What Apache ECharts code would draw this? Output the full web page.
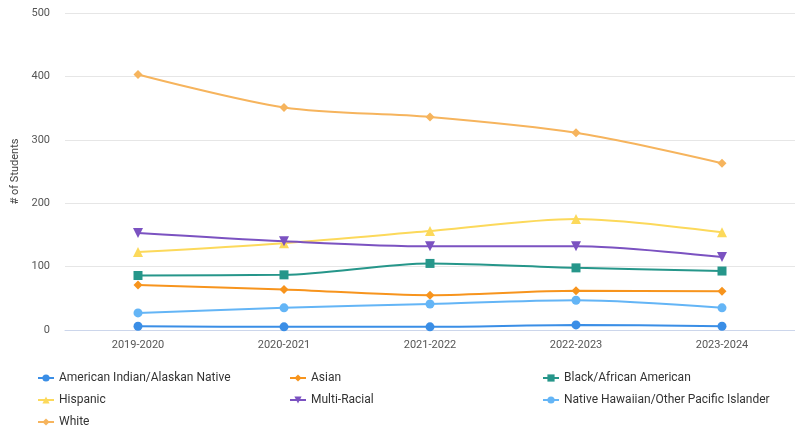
<!DOCTYPE html>
<html><head><meta charset="utf-8">
<script src="https://cdn.jsdelivr.net/npm/echarts@6/dist/echarts.min.js"></script>
<style>html,body{margin:0;padding:0;background:#fff}#c{width:795px;height:430px}</style>
</head><body><div id="c"></div>
<script>
var categories = ['2019-2020','2020-2021','2021-2022','2022-2023','2023-2024'];
var aian = [6,5,5,8,6];
var asian = [71,64,55,62,61];
var black = [86,87,105,98,93];
var hispanic = [123,137,156,175,154];
var multiRacial = [153,140,132,132,115];
var nhopi = [27,35,41,47,35];
var white = [403,351,336,311,263];
var yTicks = [0,100,200,300,400,500];

var defs = [
  {name:'American Indian/Alaskan Native', data:aian, color:'#3a8ee6', symbol:'circle', size:9},
  {name:'Asian', data:asian, color:'#f7941d', symbol:'diamond', size:9},
  {name:'Black/African American', data:black, color:'#26968a', symbol:'rect', size:9},
  {name:'Hispanic', data:hispanic, color:'#fcd95b', symbol:'triangle', size:10},
  {name:'Multi-Racial', data:multiRacial, color:'#7b52c1', symbol:'triangle', size:10, rotate:180},
  {name:'Native Hawaiian/Other Pacific Islander', data:nhopi, color:'#64b5f6', symbol:'circle', size:9},
  {name:'White', data:white, color:'#f6b45d', symbol:'diamond', size:9}
];
var series = defs.map(function(d){
  return {name:d.name, type:'line', data:d.data, smooth:0.3, symbol:d.symbol, symbolSize:d.size,
    symbolRotate:d.rotate||0, showSymbol:true,
    itemStyle:{color:d.color}, lineStyle:{color:d.color, width:2}};
});
var colLeft = [37, 289, 542];
var rowTop = [372, 394, 416];
var legends = defs.map(function(d, i){
  return {left:colLeft[i % 3], top:rowTop[Math.floor(i / 3)], data:[d.name], padding:0,
    itemWidth:16, itemHeight:9, itemGap:5,
    textStyle:{color:'#333', fontSize:12, fontFamily:'Roboto'}};
});
var option = {
  animation:false,
  textStyle:{fontFamily:'Roboto'},
  grid:{left:65, right:-3, top:13, bottom:100},
  legend:legends,
  xAxis:{type:'category', data:categories, boundaryGap:true,
    axisLine:{lineStyle:{color:'#ccd6eb'}}, axisTick:{show:false},
    axisLabel:{color:'#555', fontSize:11, margin:10}},
  yAxis:{type:'value', min:yTicks[0], max:yTicks[yTicks.length-1], interval:100,
    name:'# of Students', nameLocation:'middle', nameGap:40, nameRotate:90,
    nameTextStyle:{color:'#444', fontSize:11},
    axisLine:{show:false}, axisTick:{show:false},
    axisLabel:{color:'#555', fontSize:11, margin:15},
    splitLine:{lineStyle:{color:'#e6e6e6'}}},
  series:series
};
echarts.init(document.getElementById('c')).setOption(option);
</script></body></html>
